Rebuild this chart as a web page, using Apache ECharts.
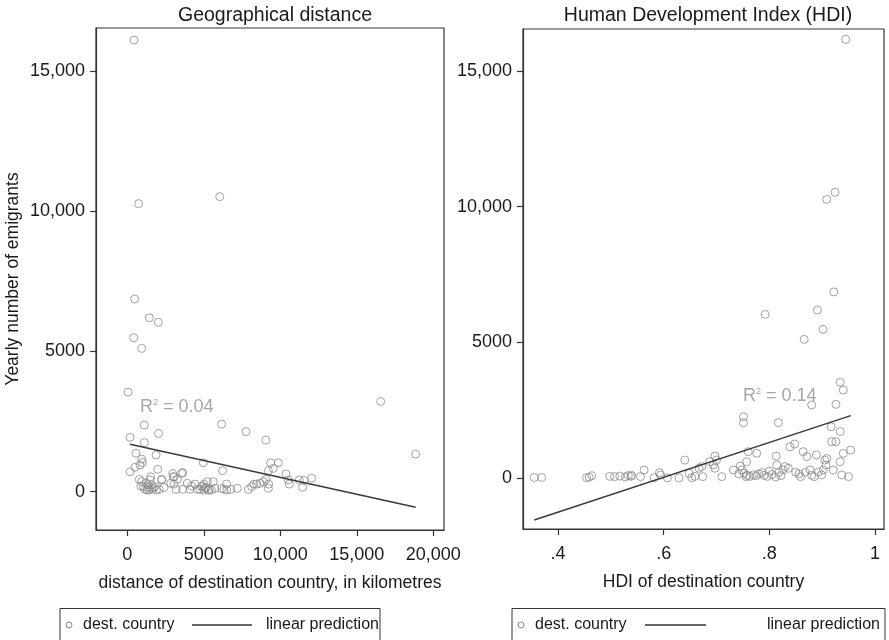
<!DOCTYPE html>
<html><head><meta charset="utf-8">
<script src="https://cdn.jsdelivr.net/npm/echarts@6/dist/echarts.min.js"></script>
<style>html,body{margin:0;padding:0;background:#fff}#c{width:889px;height:640px}</style>
</head><body><div id="c"></div>
<script>
// ---- data ----
const distPoints = [
 [440,16100],[740,10270],[6040,10520],[480,6870],[1440,6200],[2030,6040],[420,5490],[940,5110],[50,3550],[16560,3220],[18850,1340],
 [1110,2380],[6170,2410],[7760,2140],[2050,2080],[9050,1840],[180,1940],[1110,1750],[570,1370],[1880,1310],[940,1160],[990,1040],
 [500,870],[180,710],[830,950],[1990,800],[4970,1030],[6230,750],[9370,1030],[9870,1030],[9540,830],[9220,750],[10370,630],
 [10520,420],[11240,420],[12050,480],[11460,160],[11550,400],[10590,270],[3620,680],[2970,650],[3050,530],[1530,530],[2250,440],
 [785,440],[940,360],[875,200],[1045,180],[1220,300],[1375,160],[1485,420],[1595,240],[1700,120],[1440,60],[1155,85],[1810,180],
 [2090,85],[2245,420],[2835,300],[3005,535],[3050,270],[3270,440],[3185,85],[3555,655],[3620,85],[3920,300],[4100,85],[4425,270],
 [4575,85],[4750,85],[4860,180],[5015,270],[5145,120],[5230,360],[5360,85],[5620,360],[5730,120],[6170,120],[6320,85],[6495,270],
 [6760,85],[7190,120],[7910,85],[8130,180],[8280,270],[8455,270],[8670,300],[8890,360],[9065,440],[9220,120],[9240,270],
 [1300,60],[1600,100],[1350,250],[5000,60],[5100,150],[5300,50],[4900,200],[5500,60],[1900,60],[2400,150],[6500,60],[4200,200]
];
const hdiPoints = [
 [0.9446,16170],[0.9086,10270],[0.9243,10530],[0.922,6860],[0.792,6030],[0.891,6190],[0.9016,5480],[0.866,5110],[0.934,3530],
 [0.940,3240],[0.880,2690],[0.926,2715],[0.751,2260],[0.751,2040],[0.817,2040],[0.917,1890],[0.934,1710],
 [0.355,20],[0.369,20],[0.454,10],[0.459,30],[0.464,85],[0.498,60],[0.507,50],[0.517,70],[0.527,40],[0.533,90],[0.538,60],
 [0.539,100],[0.556,50],[0.563,295],[0.582,10],[0.592,195],[0.594,110],[0.607,5],[0.629,5],[0.640,660],[0.648,170],[0.653,10],
 [0.659,60],[0.674,50],[0.667,360],[0.687,600],[0.697,810],[0.700,660],[0.694,480],[0.697,360],[0.710,50],[0.672,420],[0.732,295],
 [0.745,440],[0.748,300],[0.752,180],[0.758,100],[0.763,60],[0.756,50],[0.760,970],[0.776,910],[0.757,600],[0.770,120],[0.775,80],
 [0.780,150],[0.786,200],[0.790,100],[0.796,60],[0.813,810],[0.814,480],[0.830,420],[0.836,360],[0.839,1150],[0.848,1250],
 [0.850,210],[0.856,150],[0.859,50],[0.868,210],[0.877,300],[0.864,970],[0.871,790],[0.889,850],[0.905,660],[0.909,720],
 [0.907,480],[0.902,295],[0.899,110],[0.921,295],[0.934,600],[0.940,910],[0.954,1030],[0.937,110],[0.918,1340],[0.926,1340],
 [0.800,250],[0.805,130],[0.812,40],[0.818,200],[0.822,90],[0.826,300],[0.742,150],[0.880,100],[0.885,50],[0.893,220],[0.950,50]
];
const distFit = [[180,1690],[18850,-556]];
const hdiFit = [[0.355,-1550],[0.954,2300]];
const distTicks = [0,5000,10000,15000,20000];
const hdiTicks = [0.4,0.6,0.8,1];
const yTicks = [0,5000,10000,15000];
const panelTitles = ['Geographical distance','Human Development Index (HDI)'];
const xTitles = ['distance of destination country, in kilometres','HDI of destination country'];
const yTitle = 'Yearly number of emigrants';
const r2Values = ['0.04','0.14'];
const legendNames = ['dest. country','linear prediction'];

// ---- styling / layout ----
const FONT = 'Liberation Sans, Arial, sans-serif';
const TXT = '#1a1a1a';
const AX = '#333';
const PT = '#8a8a8a';
function numFmt(v){ return v >= 10000 ? v.toLocaleString('en-US') : String(v); }
function hdiFmt(v){ return v === 1 ? '1' : String(v).replace(/^0/, ''); }
function xAxisCfg(gi, min, max, ticks, fmt, name){
  return {gridIndex:gi, type:'value', min:min, max:max,
    axisLine:{show:true,onZero:false,lineStyle:{color:AX,width:1.2}},
    axisTick:{show:true,customValues:ticks,length:6,lineStyle:{color:AX,width:1.2}},
    axisLabel:{customValues:ticks,formatter:fmt,fontSize:18,color:TXT,fontFamily:FONT,margin:16},
    splitLine:{show:false},
    name:name,nameLocation:'middle',nameGap:44,nameTextStyle:{fontSize:17.5,color:TXT,fontFamily:FONT}};
}
function yAxisCfg(gi, min, max, name){
  return {gridIndex:gi, type:'value', min:min, max:max,
    axisLine:{show:true,onZero:false,lineStyle:{color:AX,width:1.2}},
    axisTick:{show:true,customValues:yTicks,length:6,lineStyle:{color:AX,width:1.2}},
    axisLabel:{customValues:yTicks,formatter:numFmt,fontSize:18,color:TXT,fontFamily:FONT,margin:11},
    splitLine:{show:false},
    name:name,nameLocation:'middle',nameGap:74,nameRotate:90,nameTextStyle:{fontSize:17.5,color:TXT,fontFamily:FONT}};
}
function scatter(gi, data){
  return {type:'scatter',name:legendNames[0],xAxisIndex:gi,yAxisIndex:gi,data:data,symbol:'circle',symbolSize:8,
    itemStyle:{color:'rgba(0,0,0,0)',borderColor:PT,borderWidth:1},emphasis:{disabled:true},silent:true};
}
function fitLine(gi, data){
  return {type:'line',name:legendNames[1],xAxisIndex:gi,yAxisIndex:gi,data:data,symbol:'none',
    lineStyle:{color:'#3a3a3a',width:1.5},silent:true,z:3};
}
function r2Text(x, y, val){
  return {type:'text',left:x,top:y,style:{
    text:'{a|R}{s|2}{a| = '+val+'}',
    rich:{a:{fontSize:18,fontFamily:FONT,fill:'#a6a6a6'},s:{fontSize:9,fontFamily:FONT,fill:'#a6a6a6',padding:[0,0,10,0]}}}};
}
function legendBox(x, w, circX, textX, lineX1, lineX2, text2X){
  const cy = 625;
  return [
    {type:'rect',shape:{x:x,y:608.5,width:w,height:40},style:{fill:'none',stroke:'#333',lineWidth:1}},
    {type:'circle',shape:{cx:circX,cy:cy,r:3},style:{fill:'none',stroke:PT,lineWidth:1}},
    {type:'text',x:textX,y:cy,style:{text:legendNames[0],fontSize:16,fontFamily:FONT,fill:TXT,verticalAlign:'middle'}},
    {type:'line',shape:{x1:lineX1,y1:cy,x2:lineX2,y2:cy},style:{stroke:'#333',lineWidth:1.3}},
    {type:'text',x:text2X,y:cy,style:{text:legendNames[1],fontSize:16,fontFamily:FONT,fill:TXT,verticalAlign:'middle'}}
  ];
}

const chart = echarts.init(document.getElementById('c'), null, {renderer:'canvas'});
chart.setOption({
  animation:false,
  backgroundColor:'#fff',
  title:[
    {text:panelTitles[0],left:270,top:1,textAlign:'center',textStyle:{fontSize:19.5,fontWeight:'normal',color:TXT,fontFamily:FONT}},
    {text:panelTitles[1],left:703,top:1,textAlign:'center',textStyle:{fontSize:19.5,fontWeight:'normal',color:TXT,fontFamily:FONT}}
  ],
  grid:[
    {left:96,top:28,width:348,height:502,show:true,borderColor:AX,borderWidth:1.2,backgroundColor:'#fff'},
    {left:523,top:29,width:361,height:500,show:true,borderColor:AX,borderWidth:1.2,backgroundColor:'#fff'}
  ],
  xAxis:[
    xAxisCfg(0,-2046,20700,distTicks,numFmt,xTitles[0]),
    xAxisCfg(1,0.3337,1.017,hdiTicks,hdiFmt,xTitles[1])
  ],
  yAxis:[
    yAxisCfg(0,-1365,16531,yTitle),
    yAxisCfg(1,-1880,16550,'')
  ],
  series:[scatter(0,distPoints),fitLine(0,distFit),scatter(1,hdiPoints),fitLine(1,hdiFit)],
  graphic:[
    r2Text(140,398,r2Values[0]),
    r2Text(743,387,r2Values[1]),
    ...legendBox(60,320,69,83,192,252,266),
    ...legendBox(512,373,521,535,645,706,767)
  ]
});
</script></body></html>
